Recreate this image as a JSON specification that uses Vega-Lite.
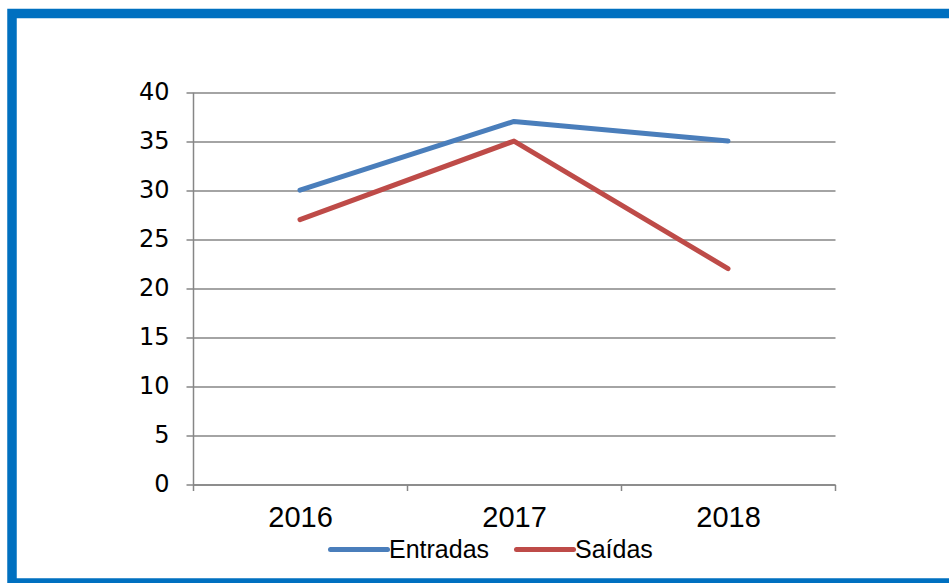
{
  "$schema": "https://vega.github.io/schema/vega-lite/v6.json",
  "width": 937,
  "height": 569.5,
  "autosize": {"type": "none"},
  "padding": {"left": 12, "top": 13.5, "right": 0, "bottom": 0},
  "background": "white",
  "config": {
    "view": {"stroke": "#0070C0", "strokeWidth": 9.5, "strokeDash": [937, 569.5, 3000]}
  },
  "data": {
    "values": [
      {"ano": "2016", "serie": "Entradas", "valor": 30},
      {"ano": "2017", "serie": "Entradas", "valor": 37},
      {"ano": "2018", "serie": "Entradas", "valor": 35},
      {"ano": "2016", "serie": "Saídas", "valor": 27},
      {"ano": "2017", "serie": "Saídas", "valor": 35},
      {"ano": "2018", "serie": "Saídas", "valor": 22}
    ]
  },
  "mark": {"type": "line", "strokeWidth": 5, "strokeCap": "round", "strokeJoin": "round"},
  "encoding": {
    "x": {
      "field": "ano",
      "type": "ordinal",
      "scale": {"type": "band", "range": [181, 823], "paddingInner": 0, "paddingOuter": 0},
      "axis": {
        "title": null,
        "orient": "bottom",
        "offset": -98.5,
        "labelAngle": 0,
        "tickBand": "extent",
        "tickSize": 6,
        "tickColor": "#868686",
        "tickWidth": 1.5,
        "domainColor": "#868686",
        "domainWidth": 1.5,
        "labelFont": "Liberation Sans",
        "labelFontSize": 29,
        "labelColor": "#000000",
        "labelPadding": 12.5,
        "grid": false
      }
    },
    "y": {
      "field": "valor",
      "type": "quantitative",
      "scale": {"domain": [0, 40], "range": [471, 78.5], "nice": false, "zero": true},
      "axis": {
        "title": null,
        "orient": "left",
        "offset": -181,
        "values": [0, 5, 10, 15, 20, 25, 30, 35, 40],
        "tickSize": 7,
        "tickColor": "#868686",
        "tickWidth": 1.5,
        "domainColor": "#868686",
        "domainWidth": 1.5,
        "grid": true,
        "gridColor": "#868686",
        "gridWidth": 1.5,
        "labelFont": "DejaVu Sans",
        "labelFontSize": 24,
        "labelColor": "#000000",
        "labelPadding": 17
      }
    },
    "color": {
      "field": "serie",
      "type": "nominal",
      "scale": {"domain": ["Entradas", "Saídas"], "range": ["#4A7EBB", "#BE4B48"]},
      "legend": {
        "title": null,
        "orient": "none",
        "direction": "horizontal",
        "legendX": 316,
        "legendY": 505,
        "padding": 0,
        "symbolType": "stroke",
        "symbolSize": 3249,
        "symbolStrokeWidth": 5,
        "labelFont": "Liberation Sans",
        "labelFontSize": 25,
        "labelColor": "#000000",
        "labelOffset": -1,
        "columnPadding": 16,
        "encode": {"symbols": {"update": {"strokeCap": {"value": "round"}}}}
      }
    }
  }
}
